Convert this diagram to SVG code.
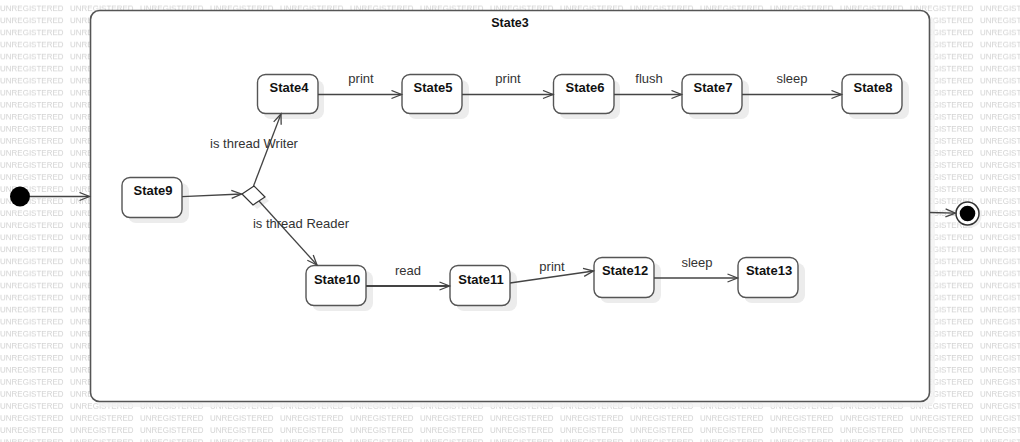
<svg xmlns="http://www.w3.org/2000/svg" width="1020" height="442" viewBox="0 0 1020 442">
<defs>
<pattern id="wm" patternUnits="userSpaceOnUse" x="0" y="0" width="70" height="12.05">
<text x="0" y="11.2" class="wm">UNREGISTERED</text>
</pattern>
<marker id="arr" markerUnits="userSpaceOnUse" markerWidth="14" markerHeight="12" refX="11" refY="5" orient="auto">
<path d="M1,1 L11,5 L1,9" fill="none" stroke="#444" stroke-width="1.3"/>
</marker>
</defs>
<style>
.wm{font-family:"Liberation Sans",Arial,sans-serif;font-size:8px;fill:#d2d2d2}
.node rect.b{fill:#fff;stroke:#555;stroke-width:1.4}
.sh{fill:#ececec}
.nl{font-family:"Liberation Sans",Arial,sans-serif;font-size:13px;font-weight:bold;fill:#111;text-anchor:middle}
.el{font-family:"Liberation Sans",Arial,sans-serif;font-size:13px;fill:#333;text-anchor:middle}
#edges line,#edges path{stroke:#444;stroke-width:1.3;fill:none;marker-end:url(#arr)}
</style>
<rect x="0" y="0" width="1020" height="442" fill="#fff"/>
<rect x="0" y="0" width="1020" height="442" fill="url(#wm)"/>

<g id="State3">
<rect x="95" y="15" width="840" height="392" rx="9" fill="#f2f2f2" opacity="0.8"/>
<rect x="90.5" y="10.5" width="839" height="391" rx="9" fill="#fff" stroke="#555" stroke-width="1.6"/>
<text x="510" y="27" class="nl" style="font-size:12.5px">State3</text>
</g>

<g id="initial">
<circle cx="20" cy="196.5" r="10" fill="#000"/>
</g>
<g id="final">
<circle cx="970" cy="216" r="11.5" fill="#eee"/>
<circle cx="967.5" cy="213.5" r="11.5" fill="#fff" stroke="#333" stroke-width="1.5"/>
<circle cx="967.5" cy="213.5" r="7.8" fill="#000"/>
</g>

<g id="decision">
<polygon points="246,198 258,190 269,201 257,209" class="sh"/>
<polygon points="242,194 254,186 265,197 253,205" fill="#fff" stroke="#333" stroke-width="1.2"/>
</g>

<g id="State4" class="node"><rect class="sh" x="263" y="80" width="61" height="39" rx="8"/><rect class="b" x="257.5" y="74.5" width="60.5" height="39" rx="8"/><text class="nl" x="289" y="91.5">State4</text></g>
<g id="State5" class="node"><rect class="sh" x="408" y="80" width="61" height="39" rx="8"/><rect class="b" x="402" y="74.5" width="60" height="39" rx="8"/><text class="nl" x="433" y="91.5">State5</text></g>
<g id="State6" class="node"><rect class="sh" x="559" y="80" width="61" height="39" rx="8"/><rect class="b" x="553.5" y="74.5" width="60.5" height="39" rx="8"/><text class="nl" x="585" y="91.5">State6</text></g>
<g id="State7" class="node"><rect class="sh" x="688" y="80" width="61" height="39" rx="8"/><rect class="b" x="682" y="74.5" width="60" height="39" rx="8"/><text class="nl" x="713" y="91.5">State7</text></g>
<g id="State8" class="node"><rect class="sh" x="848" y="80" width="61" height="39" rx="8"/><rect class="b" x="842" y="74.5" width="60" height="39" rx="8"/><text class="nl" x="873" y="91.5">State8</text></g>
<g id="State9" class="node"><rect class="sh" x="128" y="183" width="61" height="40" rx="8"/><rect class="b" x="122" y="177.5" width="60" height="40" rx="8"/><text class="nl" x="153" y="195">State9</text></g>
<g id="State10" class="node"><rect class="sh" x="312" y="271" width="61" height="40" rx="8"/><rect class="b" x="306" y="265.5" width="60" height="40" rx="8"/><text class="nl" x="337" y="283.5">State10</text></g>
<g id="State11" class="node"><rect class="sh" x="456" y="271" width="61" height="40" rx="8"/><rect class="b" x="450" y="265.5" width="60" height="40" rx="8"/><text class="nl" x="481" y="283.5">State11</text></g>
<g id="State12" class="node"><rect class="sh" x="600" y="263" width="61" height="40" rx="8"/><rect class="b" x="594" y="257.5" width="60" height="40" rx="8"/><text class="nl" x="625" y="275">State12</text></g>
<g id="State13" class="node"><rect class="sh" x="744" y="263" width="61" height="40" rx="8"/><rect class="b" x="738" y="257.5" width="60" height="40" rx="8"/><text class="nl" x="769" y="275">State13</text></g>

<g id="edges">
<line x1="30" y1="196.5" x2="89.5" y2="196.5"/>
<line x1="930" y1="212.5" x2="955.5" y2="213.2"/>
<line x1="182" y1="196.7" x2="241.5" y2="194"/>
<line x1="253.5" y1="186" x2="281" y2="114"/>
<line x1="259" y1="201" x2="317" y2="265"/>
<line x1="318" y1="94.5" x2="401.5" y2="94.5"/>
<line x1="462" y1="94.5" x2="553" y2="94.5"/>
<line x1="614" y1="94.5" x2="681.5" y2="94.5"/>
<line x1="742" y1="94.5" x2="841.5" y2="94.5"/>
<line x1="366" y1="286" x2="449.5" y2="286" style="stroke-width:2"/>
<line x1="510" y1="283" x2="593.5" y2="271"/>
<line x1="654" y1="278" x2="737.5" y2="278"/>
</g>

<g id="labels">
<text class="el" x="254" y="147.5">is thread Writer</text>
<text class="el" x="301" y="228">is thread Reader</text>
<text class="el" x="361" y="83">print</text>
<text class="el" x="508" y="83">print</text>
<text class="el" x="649" y="83">flush</text>
<text class="el" x="792" y="83">sleep</text>
<text class="el" x="408" y="275">read</text>
<text class="el" x="552" y="271">print</text>
<text class="el" x="697" y="267">sleep</text>
</g>
</svg>
